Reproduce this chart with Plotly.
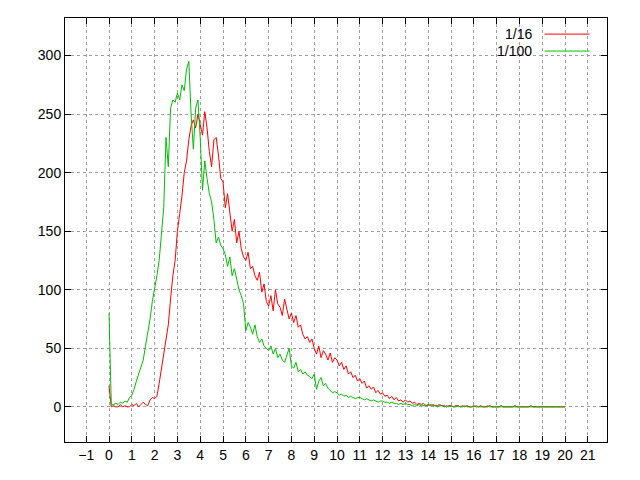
import plotly.graph_objects as go

# samples every 0.1 from 0 to 20
x = [i / 10 for i in range(201)]

red_1_16 = [
    18, 0, 1, 0, 0, 2, 0, 1, 0, 0,
    2, 1, 3, 0, 2, 4, 2, 1, 6, 8,
    7, 9, 20, 32, 45, 58, 70, 92, 112, 125,
    150, 165, 180, 200, 210, 228, 240, 245, 238, 250,
    242, 232, 252, 238, 218, 205, 228, 230, 215, 195,
    192, 170, 182, 165, 150, 160, 140, 150, 135, 128,
    125, 132, 118, 120, 112, 108, 115, 98, 105, 90,
    86, 95, 82, 100, 88, 85, 78, 92, 84, 75,
    80, 72, 78, 68, 70, 62, 58, 60, 55, 58,
    50, 45, 52, 42, 48, 45, 40, 46, 38, 42,
    40, 35, 38, 32, 35, 28, 30, 25, 27, 22,
    24, 20, 22, 16, 18, 15, 17, 12, 14, 11,
    12, 9, 10, 7, 9, 6, 8, 5, 6, 4,
    6, 4, 5, 3, 4, 2, 3, 2, 3, 1,
    2, 1, 2, 1, 1, 2, 1, 1, 0, 1,
    1, 0, 1, 1, 0, 1, 0, 1, 0, 0,
    1, 0, 0, 1, 0, 0, 0, 1, 0, 0,
    0, 0, 1, 0, 0, 0, 0, 0, 1, 0,
    0, 0, 0, 0, 0, 1, 0, 0, 0, 0,
    0, 0, 0, 0, 0, 0, 0, 0, 0, 0,
    0,
]

green_1_100 = [
    80, 2, 2, 3, 2, 4, 3, 5, 4, 8,
    10, 15, 22, 28, 35, 40, 52, 62, 75, 90,
    100, 112, 125, 150, 170, 230, 205, 255, 262, 260,
    268, 262, 275, 270, 288, 295, 250, 220, 255, 262,
    230, 185, 210, 195, 182, 175, 160, 140, 145, 138,
    135, 130, 120, 128, 112, 118, 108, 100, 95, 88,
    65, 72, 68, 62, 70, 60, 55, 58, 52, 50,
    48, 52, 45, 50, 42, 45, 40, 38, 44, 50,
    35, 33, 38, 30, 32, 28, 30, 27, 26, 24,
    28, 15, 22, 25, 18, 20, 16, 14, 12, 13,
    12, 10, 11, 9, 10, 8, 9, 8, 7, 8,
    8, 7, 6, 7, 6, 5, 6, 5, 4, 5,
    5, 4, 4, 3, 4, 3, 3, 2, 3, 2,
    3, 2, 2, 1, 2, 1, 2, 1, 1, 1,
    1, 2, 1, 1, 0, 1, 1, 0, 1, 0,
    1, 0, 0, 1, 0, 0, 1, 0, 0, 0,
    0, 1, 0, 0, 0, 0, 1, 0, 0, 0,
    0, 0, 0, 0, 0, 0, 0, 0, 0, 0,
    0, 0, 0, 0, 0, 0, 0, 0, 0, 0,
    0, 0, 0, 0, 0, 0, 0, 0, 0, 0,
    0,
]

series = [("1/16", red_1_16, "#ff0000"), ("1/100", green_1_100, "#00c000")]

fig = go.Figure()
for name, ys, col in series:
    fig.add_trace(go.Scatter(x=x, y=ys, mode="lines", name=name,
                             line=dict(color=col, width=1), showlegend=False))

# gnuplot style legend: label first, sample line after
for i, (name, ys, col) in enumerate(series):
    yy = 0.962 - i * 0.04
    fig.add_annotation(x=0.865, y=yy, xref="paper", yref="paper", text=name,
                       showarrow=False, xanchor="right", yanchor="middle",
                       font=dict(size=14, color="black"))
    fig.add_shape(type="line", xref="paper", yref="paper", x0=0.885, x1=0.968,
                  y0=yy, y1=yy, line=dict(color=col, width=1))

axis_style = dict(showgrid=True, gridcolor="#a0a0a0", griddash="dot", gridwidth=1,
                  showline=True, linecolor="black", linewidth=1, mirror="ticks",
                  ticks="inside", ticklen=6, tickcolor="black", zeroline=False)

fig.update_xaxes(range=[-1.93, 21.84], tickmode="linear", tick0=-1, dtick=1, **axis_style)
fig.update_yaxes(range=[-30, 332], tickmode="linear", tick0=0, dtick=50, **axis_style)

fig.update_layout(width=640, height=480, margin=dict(l=57, r=41, t=10, b=46),
                  plot_bgcolor="white", paper_bgcolor="white",
                  font=dict(family="Liberation Sans, Arial", size=14, color="black"))

fig.write_html("out.html")
